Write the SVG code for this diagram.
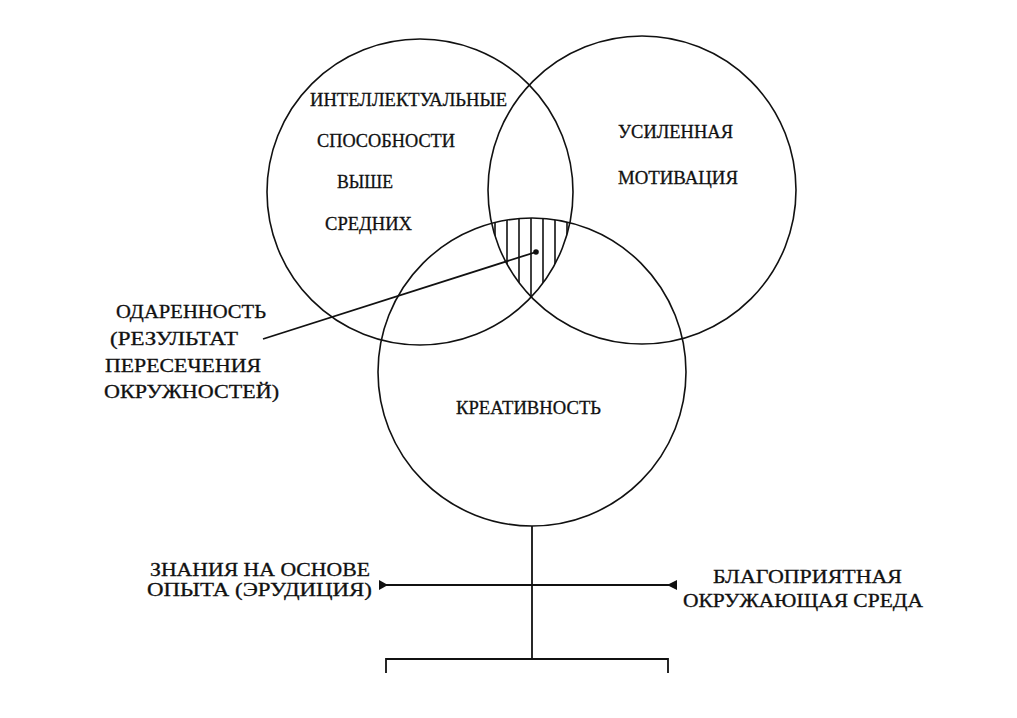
<svg xmlns="http://www.w3.org/2000/svg" width="1017" height="718" viewBox="0 0 1017 718">
<style>
.c{fill:none;stroke:#111;stroke-width:1.6}
.l{fill:none;stroke:#111;stroke-width:1.8}
.h{stroke:#111;stroke-width:1.6}
text{font-family:"Liberation Serif","Times New Roman",serif;font-size:19px;fill:#111;stroke:#111;stroke-width:0.3}
</style>
<defs>
<clipPath id="tri"><path d="M491.7 223.4 A154 154 0 0 1 569.9 222.8 A153 153 0 0 1 531.3 297 A154 154 0 0 1 491.7 223.4 Z"/></clipPath>
</defs>
<rect width="1017" height="718" fill="#fff"/>
<g id="circle-intellect">
<circle class="c" cx="420" cy="192" r="153"/>
<text x="310" y="106" textLength="197" lengthAdjust="spacingAndGlyphs">ИНТЕЛЛЕКТУАЛЬНЫЕ</text>
<text x="317" y="147" textLength="138" lengthAdjust="spacingAndGlyphs">СПОСОБНОСТИ</text>
<text x="337" y="188" textLength="56" lengthAdjust="spacingAndGlyphs">ВЫШЕ</text>
<text x="325" y="230" textLength="87" lengthAdjust="spacingAndGlyphs">СРЕДНИХ</text>
</g>
<g id="circle-motivation">
<circle class="c" cx="642" cy="190" r="154"/>
<text x="618" y="138" textLength="115" lengthAdjust="spacingAndGlyphs">УСИЛЕННАЯ</text>
<text x="618" y="184" textLength="120" lengthAdjust="spacingAndGlyphs">МОТИВАЦИЯ</text>
</g>
<g id="circle-creativity">
<circle class="c" cx="532" cy="372" r="154"/>
<text x="456" y="414" textLength="145" lengthAdjust="spacingAndGlyphs">КРЕАТИВНОСТЬ</text>
</g>
<g id="giftedness-area">
<g clip-path="url(#tri)">
<path class="h" d="M495 210V300M507 210V300M519 210V300M531 210V300M543 210V300M555 210V300M567 210V300"/>
</g>
<circle cx="536" cy="252" r="2.8" fill="#111"/>
</g>
<g id="label-giftedness">
<text x="116" y="318" textLength="150" lengthAdjust="spacingAndGlyphs">ОДАРЕННОСТЬ</text>
<text x="110" y="345" textLength="128" lengthAdjust="spacingAndGlyphs">(РЕЗУЛЬТАТ</text>
<text x="105" y="372" textLength="156" lengthAdjust="spacingAndGlyphs">ПЕРЕСЕЧЕНИЯ</text>
<text x="104" y="398" textLength="175" lengthAdjust="spacingAndGlyphs">ОКРУЖНОСТЕЙ)</text>
</g>
<g id="label-knowledge">
<text x="150" y="576" textLength="220" lengthAdjust="spacingAndGlyphs">ЗНАНИЯ НА ОСНОВЕ</text>
<text x="147" y="596" textLength="225" lengthAdjust="spacingAndGlyphs">ОПЫТА (ЭРУДИЦИЯ)</text>
</g>
<g id="label-environment">
<text x="713" y="583" textLength="189" lengthAdjust="spacingAndGlyphs">БЛАГОПРИЯТНАЯ</text>
<text x="683" y="607" textLength="240" lengthAdjust="spacingAndGlyphs">ОКРУЖАЮЩАЯ СРЕДА</text>
</g>
<g id="connectors">
<line class="l" x1="263" y1="339" x2="536" y2="252"/>
<line class="l" x1="532" y1="526" x2="532" y2="659"/>
<line class="l" x1="381" y1="585" x2="677" y2="585"/>
<polygon points="379,580 388,585 379,590" fill="#111"/>
<polygon points="677,580 667,585 677,590" fill="#111"/>
<path class="l" d="M386 673V659H668V673"/>
</g>
</svg>
